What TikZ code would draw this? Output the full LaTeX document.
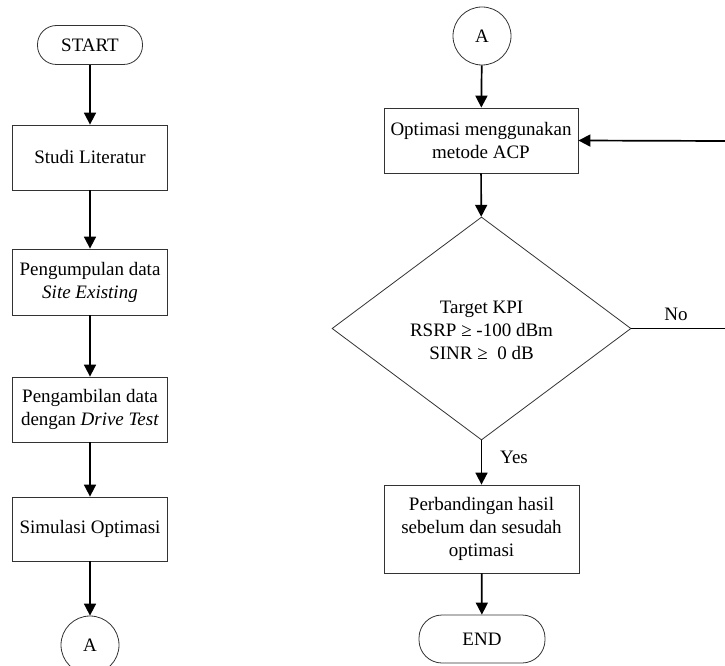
\documentclass[tikz,border=0pt]{standalone}
\usepackage{fontspec}
\setmainfont{Liberation Serif}
\usetikzlibrary{arrows.meta,shapes.geometric}
\tikzset{
  base/.style={draw=black!80, line width=0.8pt, align=center, inner sep=0pt,
    font=\fontsize{19}{23}\selectfont, text=black},
  procbox/.style={base, rectangle},
  termbox/.style={base, rectangle, rounded corners=19pt},
  connbox/.style={base, circle, minimum size=58pt},
  decbox/.style={base, diamond, minimum width=299pt, minimum height=223pt},
  flow/.style={line width=1.7pt, -{Triangle[width=12pt,length=12pt]}},
  plainflow/.style={line width=1.7pt},
  lbl/.style={font=\fontsize{19}{23}\selectfont, inner sep=0pt}
}
\begin{document}
\begin{tikzpicture}[x=1pt,y=-1pt]
\useasboundingbox (0,0) rectangle (725,666);
% left column
\node[termbox, minimum width=105pt, minimum height=39pt] (start) at (90,45) {START};
\node[procbox, minimum width=155pt, minimum height=65pt] (studi) at (90,157.5) {Studi Literatur};
\node[procbox, minimum width=155pt, minimum height=66pt] (kumpul) at (90,282) {Pengumpulan data\\\textit{Site Existing}};
\node[procbox, minimum width=155pt, minimum height=65pt] (ambil) at (90,409.5) {Pengambilan data\\dengan \textit{Drive Test}};
\node[procbox, minimum width=155pt, minimum height=64pt] (simul) at (90,529) {Simulasi Optimasi};
\node[connbox] (a1) at (90,645) {A};
\draw[flow] (start) -- (studi);
\draw[flow] (studi) -- (kumpul);
\draw[flow] (kumpul) -- (ambil);
\draw[flow] (ambil) -- (simul);
\draw[flow] (simul) -- (a1);
% right column
\node[connbox] (a2) at (482,36) {A};
\node[procbox, minimum width=194pt, minimum height=65pt] (acp) at (481,140.5) {Optimasi menggunakan\\metode ACP};
\node[decbox] (kpi) at (481.5,328.5) {};
\node[lbl, align=center] (kpitxt) at (481.5,330) {Target KPI\\RSRP ≥ -100 dBm\\SINR ≥\ \ 0 dB};
\node[procbox, minimum width=195pt, minimum height=88pt] (banding) at (481.5,529) {Perbandingan hasil\\sebelum dan sesudah\\optimasi};
\node[termbox, minimum width=126pt, minimum height=48pt, rounded corners=23pt] (end) at (482,639) {END};
\coordinate (noend) at (725,328.5);
\coordinate (backin) at (725,141);
\draw[flow] (a2) -- (acp);
\draw[flow] (acp) -- (kpi);
\draw[plainflow] (kpi.east) -- (noend);
\draw[flow] (backin) -- (acp.east);
\draw[flow] (kpi.south) -- (banding);
\draw[flow] (banding) -- (end);
\node[lbl] (nolbl) at (676,314) {No};
\node[lbl] (yeslbl) at (514,457) {Yes};
\end{tikzpicture}
\end{document}
